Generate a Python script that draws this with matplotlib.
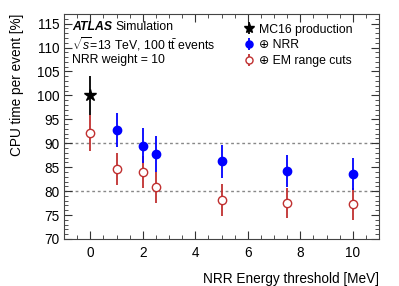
import numpy as np
import matplotlib.pyplot as plt
from matplotlib.ticker import MultipleLocator

plt.rcParams['font.family'] = ['Liberation Sans', 'DejaVu Sans']
plt.rcParams['font.size'] = 9.8
plt.rcParams['mathtext.fontset'] = 'custom'
plt.rcParams['mathtext.rm'] = 'Liberation Sans'
plt.rcParams['mathtext.it'] = 'Liberation Sans:italic'

# MC16 production reference
mc_x = [0]
mc_y = [100.0]
mc_err = [4.0]

# + NRR
nrr_x = [1, 2, 2.5, 5, 7.5, 10]
nrr_y = [92.8, 89.5, 87.8, 86.2, 84.2, 83.6]
nrr_err = [3.6, 3.6, 3.7, 3.5, 3.4, 3.3]

# + EM range cuts
em_x = [0, 1, 2, 2.5, 5, 7.5, 10]
em_y = [92.1, 84.6, 84.0, 80.8, 78.2, 77.5, 77.3]
em_err = [3.7, 3.3, 3.4, 3.2, 3.3, 3.2, 3.3]

red = '#c03030'

fig = plt.figure(figsize=(3.99, 2.86), dpi=100)
ax = fig.add_axes([64 / 399, 1 - 239 / 286, (379 - 64) / 399, (239 - 14) / 286])

ax.axhline(80, color='#888888', ls=(0, (2, 2)), lw=1, zorder=0)
ax.axhline(90, color='#888888', ls=(0, (2, 2)), lw=1, zorder=0)

ax.errorbar(mc_x, mc_y, yerr=mc_err, fmt='*', color='black', ms=9,
            elinewidth=1.3, capsize=0, label='MC16 production', zorder=3)
ax.errorbar(em_x, em_y, yerr=em_err, fmt='o', color=red, mfc='white', mec=red,
            ms=6, elinewidth=1.3, capsize=0, label='\u2295 EM range cuts', zorder=4)
ax.errorbar(nrr_x, nrr_y, yerr=nrr_err, fmt='o', color='blue', ms=6,
            elinewidth=1.3, capsize=0, label='\u2295 NRR', zorder=5)

ax.set_xlim(-1, 11)
ax.set_ylim(70, 117)
ax.xaxis.set_major_locator(MultipleLocator(2))
ax.xaxis.set_minor_locator(MultipleLocator(0.5))
ax.yaxis.set_major_locator(MultipleLocator(5))
ax.yaxis.set_minor_locator(MultipleLocator(1))
ax.tick_params(which='both', direction='in', top=True, right=True, color='#333333')
ax.tick_params(which='major', length=6)
ax.tick_params(which='minor', length=3)
ax.tick_params(axis='x', pad=5)
for s in ax.spines.values():
    s.set_color('#444444')

ax.set_xlabel('NRR Energy threshold [MeV]', loc='right', labelpad=9)
ax.set_ylabel('CPU time per event [%]', loc='top', labelpad=9)

fs = 8.8
t = ax.text(0.025, 0.94, 'ATLAS', transform=ax.transAxes, fontweight='bold',
            fontstyle='italic', va='center', fontsize=fs)
fig.canvas.draw()
bb = t.get_window_extent().transformed(ax.transAxes.inverted())
ax.text(bb.x1 + 0.01, 0.94, 'Simulation', transform=ax.transAxes, va='center', fontsize=fs)
ax.text(0.025, 0.865, '$\\sqrt{s}$=13 TeV, 100 t$\\bar{\\mathrm{t}}$ events', transform=ax.transAxes,
        va='center', fontsize=fs)
ax.text(0.025, 0.795, 'NRR weight = 10', transform=ax.transAxes, va='center', fontsize=fs)

h, l = ax.get_legend_handles_labels()
order = [0, 2, 1]
ax.legend([h[i] for i in order], [l[i] for i in order], loc='upper left',
          bbox_to_anchor=(0.55, 0.99), frameon=False, handlelength=0.7,
          handletextpad=0.5, labelspacing=0.3, borderaxespad=0.2,
          markerscale=0.85, fontsize=fs)

fig.savefig('out.png', dpi=100)
